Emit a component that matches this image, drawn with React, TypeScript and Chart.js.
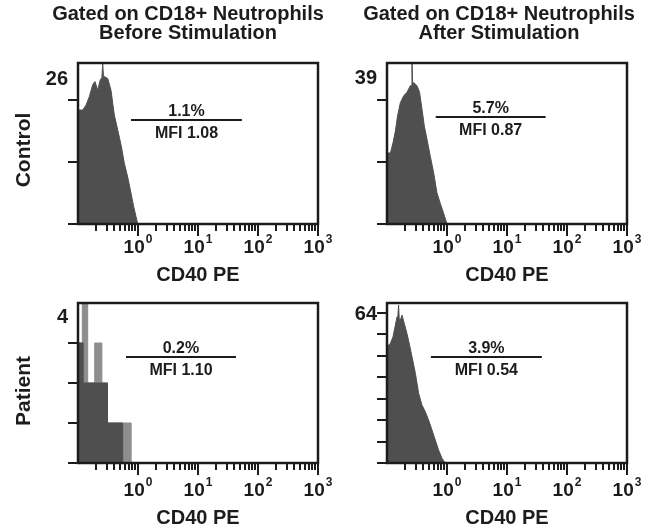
import React, { useEffect, useRef } from "react";
import { Chart, registerables } from "chart.js";

Chart.register(...registerables);

// ---------- data ----------
const X_MIN = 0.1;
const X_MAX = 1000;
const DECADES = [1, 10, 100, 1000];
const DECADE_EXPONENTS = ["0", "1", "2", "3"];
const MINOR_BASES = [0.1, 1, 10, 100];
const MINOR_MULTIPLIERS = [2, 3, 4, 5, 6, 7, 8, 9];

const COLUMN_TITLES = [
  ["Gated on CD18+ Neutrophils", "Before Stimulation"],
  ["Gated on CD18+ Neutrophils", "After Stimulation"],
];
const ROW_LABELS = ["Control", "Patient"];
const X_AXIS_TITLE = "CD40 PE";

// Control – before stimulation (counts vs CD40 PE)
const ctrlBeforeX = [0.1, 0.108, 0.12, 0.136, 0.155, 0.176, 0.192, 0.213, 0.235, 0.25, 0.258, 0.266, 0.275, 0.313, 0.355, 0.379, 0.403, 0.459, 0.521, 0.592, 0.673, 0.764, 0.847, 0.926, 0.99];
const ctrlBeforeY = [18.4, 18.4, 18.4, 19.2, 20.6, 22.5, 23.0, 21.6, 23.3, 23.6, 25.9, 23.8, 23.8, 23.5, 21.6, 19.5, 17.6, 15.2, 12.8, 9.8, 7.6, 5.0, 2.8, 1.2, 0];

// Control – after stimulation
const ctrlAfterX = [0.1, 0.104, 0.114, 0.126, 0.138, 0.15, 0.167, 0.189, 0.215, 0.245, 0.255, 0.261, 0.267, 0.278, 0.316, 0.349, 0.383, 0.419, 0.464, 0.527, 0.599, 0.681, 0.773, 0.877, 1.0];
const ctrlAfterY = [17.2, 17.2, 17.2, 19.7, 22.5, 26.2, 29.4, 31.0, 31.9, 33.5, 33.6, 39, 34.0, 34.3, 33.5, 31.9, 27.8, 23.7, 20.5, 16.4, 12.4, 7.5, 5.0, 2.6, 0];

// Patient – before stimulation (few events, stepped)
const patBeforeLightX = [0.1, 0.118, 0.145, 0.19, 0.25, 0.31, 0.77];
const patBeforeLightY = [3, 4, 2, 3, 2, 1, 0];
const patBeforeDarkX = [0.1, 0.122, 0.31, 0.555];
const patBeforeDarkY = [3, 2, 1, 0];

// Patient – after stimulation
const patAfterX = [0.1, 0.102, 0.114, 0.126, 0.138, 0.147, 0.152, 0.156, 0.16, 0.167, 0.178, 0.194, 0.215, 0.238, 0.261, 0.297, 0.337, 0.383, 0.435, 0.494, 0.562, 0.638, 0.724, 0.826, 0.937];
const patAfterY = [49.6, 49.6, 51.1, 53.9, 58.9, 62.4, 63.0, 67.4, 61.5, 61.0, 63.1, 59.6, 55.3, 50.3, 45.4, 38.3, 29.7, 24.7, 21.9, 18.3, 14.1, 9.8, 5.5, 2.0, 0];

const Y_MAX = [26, 39, 4, 68.3];
const Y_TICKS = [
  [0, 10, 20],
  [0, 15, 30],
  [0, 1, 2, 3],
  [0, 9.14, 18.29, 27.43, 36.57, 45.71, 54.86, 64],
];
const Y_MAX_LABELS = ["26", "39", "4", "64"];
const PERCENTS = ["1.1%", "5.7%", "0.2%", "3.9%"];
const MFIS = ["MFI 1.08", "MFI 0.87", "MFI 1.10", "MFI 0.54"];

// ---------- style ----------
const FONT = '"Liberation Sans", Arial, Helvetica, sans-serif';
const INK = "#1c1c1c";
const DARK = "#4f4f4f";
const LIGHT = "#8e8e8e";

const pts = (xs: number[], ys: number[]) => xs.map((x, i) => ({ x, y: ys[i] }));

const histDataset = (xs: number[], ys: number[], color: string, stepped: any = false) => ({
  data: pts(xs, ys),
  borderColor: color,
  backgroundColor: color,
  borderWidth: 1,
  fill: "origin",
  pointRadius: 0,
  tension: 0,
  stepped,
});

type PanelSpec = {
  idx: number;
  left: number;
  top: number;
  w: number;
  h: number;
  padding: { left: number; top: number; right: number; bottom: number };
  datasets: any[];
  col: number;
  row: number;
  labelBaseline: number;
  line: [number, number, number];
  titleX: number;
  rowLabelY: number;
  tickLabelDy: number;
  axisTitleDy: number;
};

const PANELS: PanelSpec[] = [
  {
    idx: 0, left: 0, top: 0, w: 333, h: 290,
    padding: { left: 78, top: 63, right: 15, bottom: 66 },
    datasets: [histDataset(ctrlBeforeX, ctrlBeforeY, DARK)],
    col: 0, row: 0, labelBaseline: 22, line: [0.221, 0.683, 0.354], titleX: 188, rowLabelY: 150,
    tickLabelDy: 29, axisTitleDy: 57,
  },
  {
    idx: 1, left: 333, top: 0, w: 334, h: 290,
    padding: { left: 54, top: 63, right: 40, bottom: 66 },
    datasets: [histDataset(ctrlAfterX, ctrlAfterY, DARK)],
    col: 1, row: 0, labelBaseline: 21, line: [0.203, 0.661, 0.333], titleX: 166, rowLabelY: 0,
    tickLabelDy: 29, axisTitleDy: 57,
  },
  {
    idx: 2, left: 0, top: 290, w: 333, h: 238,
    padding: { left: 78, top: 13, right: 15, bottom: 65 },
    datasets: [
      { ...histDataset(patBeforeDarkX, patBeforeDarkY, DARK, "before"), order: 1 },
      { ...histDataset(patBeforeLightX, patBeforeLightY, LIGHT, "before"), order: 2 },
    ],
    col: 0, row: 1, labelBaseline: 20, line: [0.2, 0.658, 0.336], titleX: 0, rowLabelY: 101,
    tickLabelDy: 33, axisTitleDy: 61,
  },
  {
    idx: 3, left: 333, top: 290, w: 334, h: 238,
    padding: { left: 54, top: 13, right: 40, bottom: 65 },
    datasets: [histDataset(patAfterX, patAfterY, DARK)],
    col: 1, row: 1, labelBaseline: 17, line: [0.183, 0.645, 0.336], titleX: 0, rowLabelY: 0,
    tickLabelDy: 33, axisTitleDy: 61,
  },
];

function framePlugin(p: PanelSpec) {
  return {
    id: "frame" + p.idx,
    afterDraw(chart: any) {
      const { ctx, chartArea: a, scales } = chart;
      const xs = scales.x;
      const ys = scales.y;
      const w = a.right - a.left;
      const h = a.bottom - a.top;
      ctx.save();
      ctx.strokeStyle = INK;
      ctx.fillStyle = INK;
      ctx.lineCap = "butt";

      // ticks
      ctx.lineWidth = 2;
      ctx.beginPath();
      for (const v of Y_TICKS[p.idx]) {
        const y = Math.round(ys.getPixelForValue(v));
        ctx.moveTo(a.left - 10, y);
        ctx.lineTo(a.left, y);
      }
      for (const b of MINOR_BASES) {
        for (const m of MINOR_MULTIPLIERS) {
          const x = Math.round(xs.getPixelForValue(b * m));
          ctx.moveTo(x, a.bottom);
          ctx.lineTo(x, a.bottom + 7);
        }
      }
      for (const d of DECADES) {
        const x = Math.round(xs.getPixelForValue(d));
        ctx.moveTo(x, a.bottom);
        ctx.lineTo(x, a.bottom + 12);
      }
      ctx.stroke();

      // frame
      ctx.lineWidth = 2.5;
      ctx.strokeRect(a.left, a.top, w, h);

      // max count label
      ctx.font = `bold 20px ${FONT}`;
      ctx.textAlign = "right";
      ctx.textBaseline = "alphabetic";
      ctx.fillText(Y_MAX_LABELS[p.idx], a.left - 10, a.top + p.labelBaseline);

      // decade labels with superscripts
      DECADES.forEach((d, i) => {
        const x = xs.getPixelForValue(d);
        ctx.font = `bold 19px ${FONT}`;
        const w1 = ctx.measureText("10").width;
        ctx.font = `bold 12px ${FONT}`;
        const w2 = ctx.measureText(DECADE_EXPONENTS[i]).width;
        const start = x - (w1 + 1 + w2) / 2;
        ctx.textAlign = "left";
        ctx.font = `bold 19px ${FONT}`;
        ctx.fillText("10", start, a.bottom + p.tickLabelDy);
        ctx.font = `bold 12px ${FONT}`;
        ctx.fillText(DECADE_EXPONENTS[i], start + w1 + 1, a.bottom + p.tickLabelDy - 10);
      });

      // axis title
      ctx.font = `bold 20px ${FONT}`;
      ctx.textAlign = "center";
      ctx.fillText(X_AXIS_TITLE, (a.left + a.right) / 2, a.bottom + p.axisTitleDy);

      // gate annotation
      const [f0, f1, fy] = p.line;
      const lx0 = a.left + f0 * w;
      const lx1 = a.left + f1 * w;
      const ly = Math.round(a.top + fy * h);
      ctx.lineWidth = 2;
      ctx.beginPath();
      ctx.moveTo(lx0, ly);
      ctx.lineTo(lx1, ly);
      ctx.stroke();
      ctx.font = `bold 16px ${FONT}`;
      ctx.textAlign = "center";
      ctx.fillText(PERCENTS[p.idx], (lx0 + lx1) / 2, ly - 4);
      ctx.fillText(MFIS[p.idx], (lx0 + lx1) / 2, ly + 18);

      // column title
      if (p.row === 0) {
        ctx.font = `bold 20px ${FONT}`;
        ctx.textAlign = "center";
        const [l1, l2] = COLUMN_TITLES[p.col];
        ctx.fillText(l1, p.titleX, 20);
        ctx.fillText(l2, p.titleX, 39);
      }

      // row label
      if (p.col === 0) {
        ctx.save();
        ctx.translate(24, p.rowLabelY);
        ctx.rotate(-Math.PI / 2);
        ctx.font = `bold 21px ${FONT}`;
        ctx.textAlign = "center";
        ctx.textBaseline = "middle";
        ctx.fillText(ROW_LABELS[p.row], 0, 0);
        ctx.restore();
      }
      ctx.restore();
    },
  };
}

function Panel({ p }: { p: PanelSpec }) {
  const ref = useRef<HTMLCanvasElement>(null);
  useEffect(() => {
    const chart = new Chart(ref.current as HTMLCanvasElement, {
      type: "line",
      data: { datasets: p.datasets },
      options: {
        animation: false,
        responsive: false,
        devicePixelRatio: 1,
        layout: { padding: p.padding },
        plugins: {
          legend: { display: false },
          tooltip: { enabled: false },
          title: { display: false },
        },
        scales: {
          x: { type: "logarithmic", min: X_MIN, max: X_MAX, display: false },
          y: { type: "linear", min: 0, max: Y_MAX[p.idx], display: false },
        },
      } as any,
      plugins: [framePlugin(p)],
    });
    return () => chart.destroy();
  }, [p]);
  return (
    <div style={{ position: "absolute", left: p.left, top: p.top, width: p.w, height: p.h }}>
      <canvas ref={ref} width={p.w} height={p.h} style={{ display: "block" }} />
    </div>
  );
}

export default function App() {
  return (
    <div style={{ position: "absolute", left: 0, top: 0, width: 667, height: 528, background: "#fff" }}>
      {PANELS.map((p) => (
        <Panel key={p.idx} p={p} />
      ))}
    </div>
  );
}
